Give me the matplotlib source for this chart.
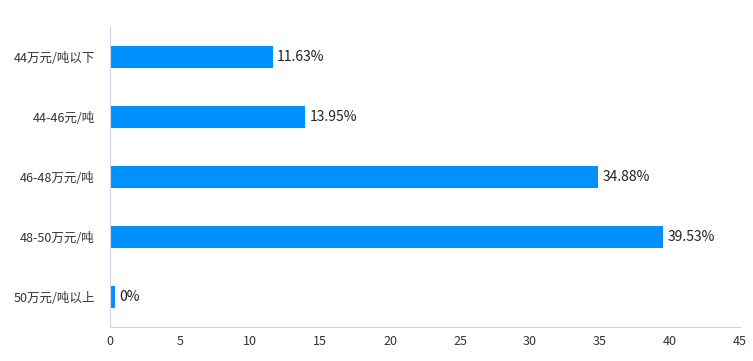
import matplotlib
matplotlib.use('Agg')
import matplotlib.pyplot as plt

plt.rcParams['font.family'] = ['Noto Sans CJK SC', 'DejaVu Sans']

categories = ['44万元/吨以下', '44-46元/吨', '46-48万元/吨', '48-50万元/吨', '50万元/吨以上']
values = [11.63, 13.95, 34.88, 39.53, 0]
labels = ['11.63%', '13.95%', '34.88%', '39.53%', '0%']
xticks = [0, 5, 10, 15, 20, 25, 30, 35, 40, 45]

fig = plt.figure(figsize=(7.53, 3.61), dpi=100)
ax = fig.add_axes([110 / 753, 34 / 361, 630 / 753, 300 / 361])

ypos = list(range(len(categories)))
# a zero bar still gets a sliver so it is visible
shown = [max(v, 0.35) for v in values]
ax.barh(ypos, shown, height=0.37, color='#0091ff')
for y, v, lab in zip(ypos, shown, labels):
    ax.text(v + 0.3, y, lab, va='center', ha='left', fontsize=10, color='#222222')

ax.set_yticks(ypos)
ax.set_yticklabels(categories)
ax.set_ylim(len(categories) - 0.5, -0.5)
ax.set_xlim(0, 45)
ax.set_xticks(xticks)

for s in ['top', 'right']:
    ax.spines[s].set_visible(False)
ax.spines['left'].set_color('#ccd6eb')
ax.spines['bottom'].set_color('#ccd6eb')
ax.tick_params(length=0, labelsize=9, colors='#333333')
ax.tick_params(axis='x', pad=6)
ax.tick_params(axis='y', pad=11)

fig.savefig('out.png', dpi=100)
